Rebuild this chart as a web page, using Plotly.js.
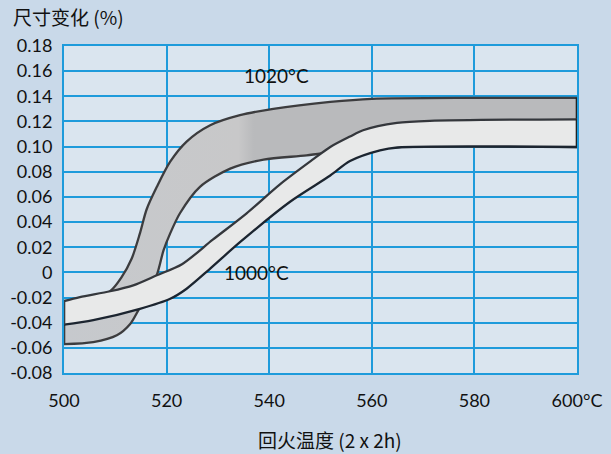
<!DOCTYPE html>
<html>
<head>
<meta charset="utf-8">
<script src="https://cdn.plot.ly/plotly-3.0.1.min.js"></script>
<style>
html,body{margin:0;padding:0;background:#c9d9e9;}
#chart{width:611px;height:454px;}
</style>
</head>
<body>
<div id="chart"></div>
<script>
// 1020°C band
const t1020Upper = [500, 505, 509, 511.2, 513.2, 514.8, 516.1, 518.1, 520.7, 523.9, 528.5, 534.3, 540.8, 551.9, 560, 580, 600];
const v1020Upper = [-0.028, -0.022, -0.015, -0.004, 0.011, 0.031, 0.050, 0.068, 0.088, 0.104, 0.117, 0.125, 0.130, 0.1355, 0.138, 0.1388, 0.1388];
const t1020Lower = [500, 505.7, 510.3, 512.9, 514.5, 516.3, 518.1, 519.4, 520.7, 522.6, 526.5, 532.4, 538.9, 547.3, 555, 565, 600];
const v1020Lower = [-0.057, -0.0554, -0.050, -0.041, -0.030, -0.016, -0.002, 0.0175, 0.031, 0.047, 0.068, 0.0825, 0.0897, 0.093, 0.097, 0.0995, 0.0997];
// 1000°C band
const t1000Upper = [500, 503.1, 509, 513.5, 518.1, 523, 529, 535.6, 542.1, 548.6, 551.9, 555.75, 558.3, 564.9, 571.3, 600];
const v1000Upper = [-0.0228, -0.0196, -0.015, -0.0103, -0.0023, 0.0065, 0.026, 0.047, 0.070, 0.090, 0.0997, 0.108, 0.113, 0.1188, 0.1205, 0.1217];
const t1000Lower = [500, 505.7, 514.8, 520.7, 523.9, 528.5, 534.3, 544, 551.9, 555.75, 561.6, 565, 600];
const v1000Lower = [-0.0416, -0.038, -0.029, -0.021, -0.013, 0.003, 0.024, 0.056, 0.077, 0.0885, 0.097, 0.0993, 0.0997];

const xTickVals = [500, 520, 540, 560, 580, 600];
const xTickText = ['500', '520', '540', '560', '580', '600°C'];
const yTickVals = [-0.08, -0.06, -0.04, -0.02, 0, 0.02, 0.04, 0.06, 0.08, 0.10, 0.12, 0.14, 0.16, 0.18];
const yTickText = ['-0.08', '-0.06', '-0.04', '-0.02', '0', '0.02', '0.04', '0.06', '0.08', '0.10', '0.12', '0.14', '0.16', '0.18'];

const labels = ['1020°C', '1000°C'];
const labelT = [541.5, 537.6];
const labelV = [0.1567, 0.0003];

const edge1020 = '#3c3c3e';
const edge1000 = '#1c2530';
const grid = '#1e9bdb';

const traces = [
  {x: t1020Lower, y: v1020Lower, mode: 'lines', line: {color: edge1020, width: 2.3, shape: 'spline', smoothing: 0.8}, hoverinfo: 'skip'},
  {x: t1020Upper, y: v1020Upper, mode: 'lines', fill: 'tonexty',
   fillcolor: '#c3c4c6',
   fillgradient: {type: 'horizontal', colorscale: [[0, '#c6c9cd'], [0.34, '#c8c8c9'], [0.37, '#b9babc'], [1, '#b9babc']]},
   line: {color: edge1020, width: 2.3, shape: 'spline', smoothing: 0.8}, hoverinfo: 'skip'},
  {x: [600, 600], y: [v1020Lower[v1020Lower.length - 1], v1020Upper[v1020Upper.length - 1]], mode: 'lines', line: {color: '#222', width: 2.6}, hoverinfo: 'skip'},
  {x: [500, 500], y: [v1020Lower[0], v1020Upper[0]], mode: 'lines', line: {color: edge1020, width: 2.6}, hoverinfo: 'skip'},
  {x: t1000Lower, y: v1000Lower, mode: 'lines', line: {color: edge1000, width: 2.3, shape: 'spline', smoothing: 0.8}, hoverinfo: 'skip'},
  {x: t1000Upper, y: v1000Upper, mode: 'lines', fill: 'tonexty', fillcolor: '#e8e9e9',
   line: {color: '#34373c', width: 2.3, shape: 'spline', smoothing: 0.8}, hoverinfo: 'skip'},
  {x: [600, 600], y: [v1000Lower[v1000Lower.length - 1], v1000Upper[v1000Upper.length - 1]], mode: 'lines', line: {color: '#222', width: 2.6}, hoverinfo: 'skip'},
  {x: [500, 500], y: [v1000Lower[0], v1000Upper[0]], mode: 'lines', line: {color: '#3a3d42', width: 2.6}, hoverinfo: 'skip'}
];

const tickFont = {family: 'Lato, "Open Sans", sans-serif', size: 18, color: '#111'};

const layout = {
  width: 611, height: 454,
  margin: {l: 64, r: 34, t: 46, b: 81, pad: 0},
  paper_bgcolor: '#c9d9e9',
  plot_bgcolor: '#dae5ef',
  showlegend: false,
  title: {text: '尺寸变化 (%)', xref: 'container', yref: 'container', x: 13 / 611, xanchor: 'left', y: 1 - 18 / 454, yanchor: 'middle',
          font: {family: '"Noto Sans CJK SC", Lato, sans-serif', size: 19, color: '#111'}},
  xaxis: {range: [500, 600], tickvals: xTickVals, ticktext: xTickText, tickfont: tickFont,
          showgrid: true, gridcolor: grid, gridwidth: 2, zeroline: false,
          showline: true, mirror: true, linecolor: grid, linewidth: 2, ticks: '', ticklabelstandoff: 10, fixedrange: true},
  yaxis: {range: [-0.08, 0.18], tickvals: yTickVals, ticktext: yTickText, tickfont: tickFont,
          showgrid: true, gridcolor: grid, gridwidth: 2, zeroline: false,
          showline: true, mirror: true, linecolor: grid, linewidth: 2, ticks: '', ticklabelstandoff: 6, fixedrange: true},
  annotations: [
    {text: labels[0], x: labelT[0], y: labelV[0], xref: 'x', yref: 'y', showarrow: false,
     font: {family: 'Lato, "Open Sans", sans-serif', size: 19, color: '#111'}},
    {text: labels[1], x: labelT[1], y: labelV[1], xref: 'x', yref: 'y', showarrow: false,
     font: {family: 'Lato, "Open Sans", sans-serif', size: 19, color: '#111'}},
    {text: '回火温度 (2 x 2h)', x: (330 - 64) / 513, xref: 'paper', xanchor: 'center', y: 0, yref: 'paper', yanchor: 'middle', yshift: -(439 - 373),
     showarrow: false,
     font: {family: '"Noto Sans CJK SC", Lato, sans-serif', size: 19, color: '#111'}}
  ]
};

Plotly.newPlot('chart', traces, layout, {displayModeBar: false, staticPlot: true});
</script>
</body>
</html>
